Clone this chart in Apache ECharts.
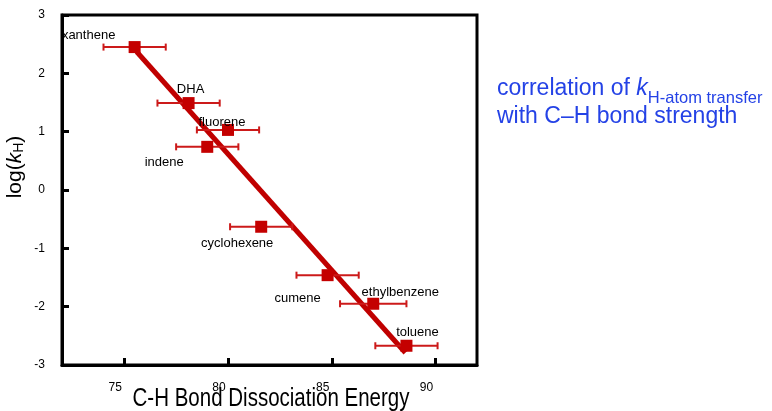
<!DOCTYPE html>
<html>
<head>
<meta charset="utf-8">
<script src="https://cdn.jsdelivr.net/npm/echarts@6/dist/echarts.min.js"></script>
<style>
  html, body { margin: 0; padding: 0; background: #ffffff; }
  #chart { width: 772px; height: 411px; }
</style>
</head>
<body>
<div id="chart"></div>
<script>
// Hydrogen donors and their C-H bond dissociation energies (kcal/mol)
const compounds = ['xanthene', 'DHA', 'fluorene', 'indene', 'cyclohexene', 'cumene', 'ethylbenzene', 'toluene'];
const bde = [75.5, 78.1, 80.0, 79.0, 81.6, 84.8, 87.0, 88.6];
const bdeErr = [1.5, 1.5, 1.5, 1.5, 1.5, 1.5, 1.6, 1.5];
const logKH = [2.45, 1.49, 1.03, 0.74, -0.63, -1.46, -1.95, -2.67];

// Ends of the fitted correlation line [BDE, log(kH)]
const fitLine = [[75.6, 2.37], [88.55, -2.79]];

// Axis ticks
const xTicks = [75, 80, 85, 90];
const yTicks = [-3, -2, -1, 0, 1, 2, 3];

// Label placement (pixel offset from each marker centre)
const labelOffsets = [[-46, -12], [2, -14], [-6, -7], [-43, 16], [-24, 17], [-30, 23], [27, -11], [11, -13]];

const FONT = '"Liberation Sans", Arial, Helvetica, sans-serif';
const BLUE = '#2442e6';

const chart = echarts.init(document.getElementById('chart'), null, { renderer: 'canvas' });

const errorData = compounds.map((c, i) => [bde[i] - bdeErr[i], bde[i] + bdeErr[i], logKH[i]]);
const pointData = compounds.map((c, i) => ({
  name: c,
  value: [bde[i], logKH[i]],
  label: { offset: labelOffsets[i] }
}));

const option = {
  animation: false,
  backgroundColor: '#ffffff',
  grid: {
    left: 62, top: 15, right: 295, bottom: 46,
    show: true, borderColor: '#000', borderWidth: 3, backgroundColor: 'transparent'
  },
  xAxis: {
    type: 'value', min: 72, max: 92,
    axisLine: { show: true, onZero: false, lineStyle: { color: '#000', width: 3 } },
    axisTick: { show: true, inside: true, length: 7, customValues: xTicks, lineStyle: { color: '#000', width: 3 } },
    axisLabel: { customValues: xTicks, margin: 17, fontSize: 12, color: '#000', fontFamily: FONT, padding: [0, 18, 0, 0] },
    splitLine: { show: false }
  },
  yAxis: {
    type: 'value', min: yTicks[0], max: yTicks[yTicks.length - 1], interval: 1,
    axisLine: { show: true, onZero: false, lineStyle: { color: '#000', width: 3 } },
    axisTick: { show: true, inside: true, length: 7, lineStyle: { color: '#000', width: 3 } },
    axisLabel: { margin: 17, fontSize: 12, color: '#000', fontFamily: FONT },
    splitLine: { show: false }
  },
  series: [
    {
      type: 'line',
      data: fitLine,
      symbol: 'none',
      lineStyle: { color: '#c00000', width: 5, cap: 'butt' },
      z: 2
    },
    {
      type: 'custom',
      data: errorData,
      encode: { x: [0, 1], y: 2 },
      z: 3,
      renderItem: function (params, api) {
        const lo = api.coord([api.value(0), api.value(2)]);
        const hi = api.coord([api.value(1), api.value(2)]);
        const cap = 3.5;
        const style = { stroke: '#cc1a1a', lineWidth: 2 };
        return {
          type: 'group',
          children: [
            { type: 'line', shape: { x1: lo[0], y1: lo[1], x2: hi[0], y2: hi[1] }, style: style },
            { type: 'line', shape: { x1: lo[0], y1: lo[1] - cap, x2: lo[0], y2: lo[1] + cap }, style: style },
            { type: 'line', shape: { x1: hi[0], y1: hi[1] - cap, x2: hi[0], y2: hi[1] + cap }, style: style }
          ]
        };
      }
    },
    {
      type: 'scatter',
      data: pointData,
      symbol: 'rect',
      symbolSize: 12,
      itemStyle: { color: '#c40000', opacity: 1 },
      label: {
        show: true, position: 'inside', formatter: '{b}',
        color: '#000', fontSize: 13, fontFamily: FONT, textBorderWidth: 0
      },
      z: 4
    }
  ],
  graphic: [
    {
      type: 'text', x: 15, y: 167, rotation: Math.PI / 2,
      style: {
        text: '{m|log(}{k|k}{s|H}{m|)}',
        align: 'center', verticalAlign: 'middle',
        rich: {
          m: { fontSize: 21, fontFamily: FONT, fill: '#000' },
          k: { fontSize: 21, fontFamily: FONT, fontStyle: 'italic', fill: '#000' },
          s: { fontSize: 14, fontFamily: FONT, fill: '#000', padding: [8, 0, 0, 0] }
        }
      }
    },
    {
      type: 'text', x: 271, y: 412.5, scaleY: 1.3,
      style: {
        text: 'C-H Bond Dissociation Energy',
        fontSize: 20.5, fontFamily: FONT, fill: '#000',
        align: 'center', verticalAlign: 'bottom'
      }
    },
    {
      type: 'text', x: 497, y: 89,
      style: {
        text: '{m|correlation of }{k|k}{s|H-atom transfer}',
        align: 'left', verticalAlign: 'middle',
        rich: {
          m: { fontSize: 23, fontFamily: FONT, fill: BLUE },
          k: { fontSize: 23, fontFamily: FONT, fontStyle: 'italic', fill: BLUE },
          s: { fontSize: 16.5, fontFamily: FONT, fill: BLUE, padding: [18, 0, 0, 0] }
        }
      }
    },
    {
      type: 'text', x: 497, y: 117,
      style: {
        text: 'with C\u2013H bond strength',
        fontSize: 23, fontFamily: FONT, fill: BLUE,
        align: 'left', verticalAlign: 'middle'
      }
    }
  ]
};

chart.setOption(option);
</script>
</body>
</html>
